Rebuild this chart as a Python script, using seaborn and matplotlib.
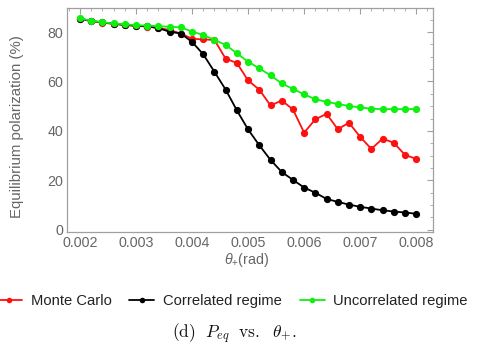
import numpy as np
import pandas as pd
import matplotlib
matplotlib.use("Agg")
import matplotlib.pyplot as plt
from matplotlib.ticker import MultipleLocator
from matplotlib.lines import Line2D
import seaborn as sns

# Scattering angle theta_+ (rad), 31 samples from 0.002 to 0.008
theta = [0.0020, 0.0022, 0.0024, 0.0026, 0.0028, 0.0030, 0.0032, 0.0034,
         0.0036, 0.0038, 0.0040, 0.0042, 0.0044, 0.0046, 0.0048, 0.0050,
         0.0052, 0.0054, 0.0056, 0.0058, 0.0060, 0.0062, 0.0064, 0.0066,
         0.0068, 0.0070, 0.0072, 0.0074, 0.0076, 0.0078, 0.0080]

# Equilibrium polarization (%)
monte_carlo = [85.3, 84.4, 83.8, 83.3, 82.8, 82.5, 82.2, 81.7,
               80.8, 79.4, 77.3, 77.0, 76.8, 69.2, 67.5, 60.4,
               56.7, 50.3, 52.3, 48.7, 39.3, 44.7, 46.9, 40.7,
               43.3, 37.6, 32.7, 36.9, 35.2, 30.3, 28.7]
correlated = [85.4, 84.5, 83.9, 83.4, 82.9, 82.6, 82.3, 81.6,
              80.1, 79.4, 76.0, 71.0, 63.9, 56.7, 48.3, 40.6,
              34.2, 28.3, 23.4, 20.2, 17.1, 15.0, 12.5, 11.3,
              10.2, 9.3, 8.6, 7.9, 7.4, 7.0, 6.5]
uncorrelated = [85.5, 84.6, 83.9, 83.5, 83.1, 82.8, 82.6, 82.4,
                82.1, 81.9, 80.2, 78.8, 76.8, 74.8, 71.4, 68.0,
                65.3, 62.5, 59.2, 57.0, 54.8, 52.8, 51.8, 50.9,
                50.1, 49.5, 49.0, 48.8, 48.8, 48.8, 48.9]

series_names = ["Monte Carlo", "Correlated regime", "Uncorrelated regime"]
series_colors = ["#ff1010", "#000000", "#10f010"]
tick_values = [0.002, 0.003, 0.004, 0.005, 0.006, 0.007, 0.008]
tick_labels = ["0.002", "0.003", "0.004", "0.005", "0.006", "0.007", "0.008"]

df = pd.concat([
    pd.DataFrame({"theta": theta, "P": vals, "series": name})
    for name, vals in zip(series_names, [monte_carlo, correlated, uncorrelated])
])

sns.set_style("white")
plt.rcParams["font.family"] = ["Liberation Sans", "DejaVu Sans"]
plt.rcParams["mathtext.fontset"] = "custom"
plt.rcParams["mathtext.it"] = "Liberation Sans:italic"
plt.rcParams["mathtext.rm"] = "Liberation Sans"

fig = plt.figure(figsize=(4.86, 3.5), dpi=100)
ax = fig.add_axes([0.138, 0.337, 0.753, 0.640])

sns.lineplot(data=df, x="theta", y="P", hue="series", hue_order=series_names,
             palette=series_colors, marker="o", markersize=5.2,
             markeredgewidth=0, linewidth=1.3, legend=False, ax=ax)

ax.set_xlim(0.00177, 0.0083)
ax.set_ylim(-0.9, 89.7)
ax.set_xticks(tick_values)
ax.set_xticklabels(tick_labels)
ax.xaxis.set_minor_locator(MultipleLocator(0.0002))
ax.yaxis.set_major_locator(MultipleLocator(20))
ax.yaxis.set_minor_locator(MultipleLocator(5))

axis_gray = "#a0a0a0"
text_gray = "#666666"
for s in ax.spines.values():
    s.set_color(axis_gray)
    s.set_linewidth(0.9)
ax.tick_params(which="both", direction="in", top=True, right=True,
               color=axis_gray, labelcolor=text_gray, labelsize=10.3)
ax.tick_params(which="major", length=4, width=0.8, pad=3)
ax.tick_params(which="minor", length=2.2, width=0.6)

ax.set_xlabel(r"$\theta_{+}$(rad)", color=text_gray, fontsize=10.3)
ax.xaxis.set_label_coords(0.49, -0.085)
ax.set_ylabel("Equilibrium polarization (%)", color=text_gray, fontsize=10.8)
ax.yaxis.set_label_coords(-0.118, 0.47)

handles = [Line2D([0], [0], color=c, marker="o", markersize=4, markeredgewidth=0,
                  linewidth=1.3) for c in series_colors]
fig.legend(handles, series_names, loc="center", bbox_to_anchor=(0.478, 0.139),
           ncol=3, frameon=False, fontsize=10.6, handlelength=1.7,
           handletextpad=0.6, columnspacing=1.2, labelcolor="#222222")

fig.text(0.482, 0.045, r"$\mathrm{(d)}\ \ P_{eq}\ \ \mathrm{vs.}\ \ \theta_{+}.$",
         ha="center", va="center", fontsize=12.5, math_fontfamily="cm",
         color="#111111")

fig.savefig("out.png", dpi=100)
